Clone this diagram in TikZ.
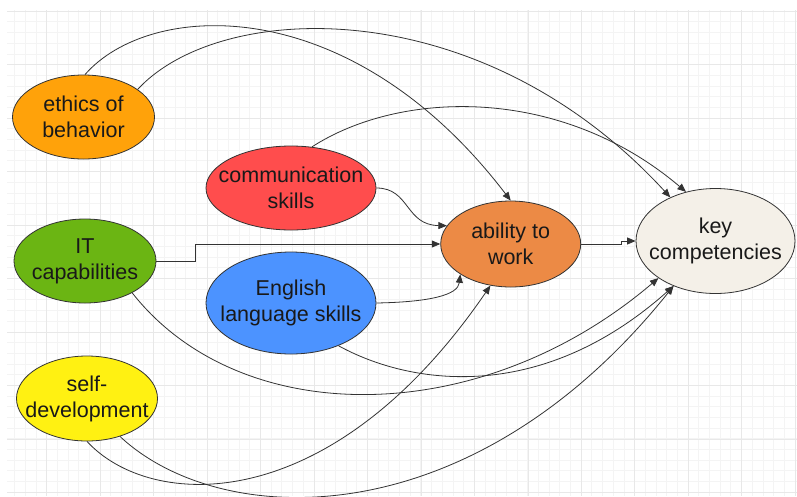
\documentclass[tikz,border=0pt]{standalone}
\usepackage{fontspec}
\setmainfont{Liberation Sans}
\usetikzlibrary{shapes.geometric,arrows.meta}

\definecolor{ethicsorange}{HTML}{FFA20A}
\definecolor{commred}{HTML}{FF4D4D}
\definecolor{itgreen}{HTML}{6BB513}
\definecolor{englishblue}{HTML}{4C93FF}
\definecolor{selfyellow}{HTML}{FFF112}
\definecolor{abilityorange}{HTML}{EC8A45}
\definecolor{keybeige}{HTML}{F4F0E8}
\definecolor{gridminor}{HTML}{F4F4F4}
\definecolor{gridmajor}{HTML}{E8E8E8}
\definecolor{linegray}{HTML}{333333}

\tikzset{
  bubble/.style={ellipse, draw=linegray, line width=0.8pt, inner sep=0pt},
  bubbletext/.style={align=center, font=\fontsize{21.5}{26}\selectfont, text=black!90},
  link/.style={draw=linegray, line width=0.8pt, -{Triangle[length=8.5pt,width=7pt]}},
}

\begin{document}
\begin{tikzpicture}[x=1pt,y=-1pt]
  \fill[white] (0,0) rectangle (797,496);
  \useasboundingbox (0,0) rectangle (797,496);
  % grid
  \foreach \i in {1,...,74}
    \draw[gridminor, line width=0.8pt] ({3.94+10.69*\i},10) -- ({3.94+10.69*\i},496);
  \foreach \j in {0,...,45}
    \draw[gridminor, line width=0.8pt] (7,{11.2+10.69*\j}) -- (797,{11.2+10.69*\j});
  \foreach \i in {0,...,14}
    \draw[gridmajor, line width=0.8pt] ({46.7+53.47*\i},10) -- ({46.7+53.47*\i},496);
  \foreach \j in {0,...,9}
    \draw[gridmajor, line width=0.8pt] (7,{11.2+53.47*\j}) -- (797,{11.2+53.47*\j});

  % nodes
  \node[bubble, fill=ethicsorange, minimum width=142pt, minimum height=84pt,
        label={[bubbletext]center:ethics of\\behavior}] (ethics) at (83.5,117) {};
  \node[bubble, fill=commred, minimum width=170pt, minimum height=84pt,
        label={[bubbletext]center:communication\\skills}] (comm) at (291,188) {};
  \node[bubble, fill=itgreen, minimum width=142pt, minimum height=84pt,
        label={[bubbletext]center:IT\\capabilities}] (IT) at (85,261) {};
  \node[bubble, fill=englishblue, minimum width=170pt, minimum height=102pt,
        label={[bubbletext]center:English\\language skills}] (english) at (291,303) {};
  \node[bubble, fill=selfyellow, minimum width=141pt, minimum height=85pt,
        label={[bubbletext]center:self-\\development}] (self) at (87,398.5) {};
  \node[bubble, fill=abilityorange, minimum width=140pt, minimum height=86pt,
        label={[bubbletext]center:ability to\\work}] (ability) at (510.7,244) {};
  \node[bubble, fill=keybeige, minimum width=159pt, minimum height=105pt,
        label={[bubbletext]center:key\\competencies}] (key) at (715.5,241) {};

  % links
  \draw[link] (ethics.88) .. controls (150,0) and (350,-10) .. (ability.north);
  \draw[link] (ethics.27) .. controls (220,0) and (480,-10) .. (key.136);
  \draw[link] (comm.63) .. controls (400,90) and (560,85) .. (key.121);
  \draw[link] (comm.east) .. controls (410,188) and (405,225) .. (ability.164);
  \draw[link] (IT.east) -- ++(39,0) |- (ability.west);
  \draw[link] (english.east) .. controls (430,302) and (458,295) .. (ability.211);
  \draw[link] (ability.east) -- ++(40,0) |- (key.west);
  \draw[link] (IT.326) .. controls (240,430) and (480,430) .. (key.213);
  \draw[link] (english.318) .. controls (410,385) and (540,405) .. (key.227);
  \draw[link] (self.south) .. controls (150,510) and (330,520) .. (ability.244);
  \draw[link] (self.311) .. controls (220,530) and (470,540) .. (key.227);
\end{tikzpicture}
\end{document}
